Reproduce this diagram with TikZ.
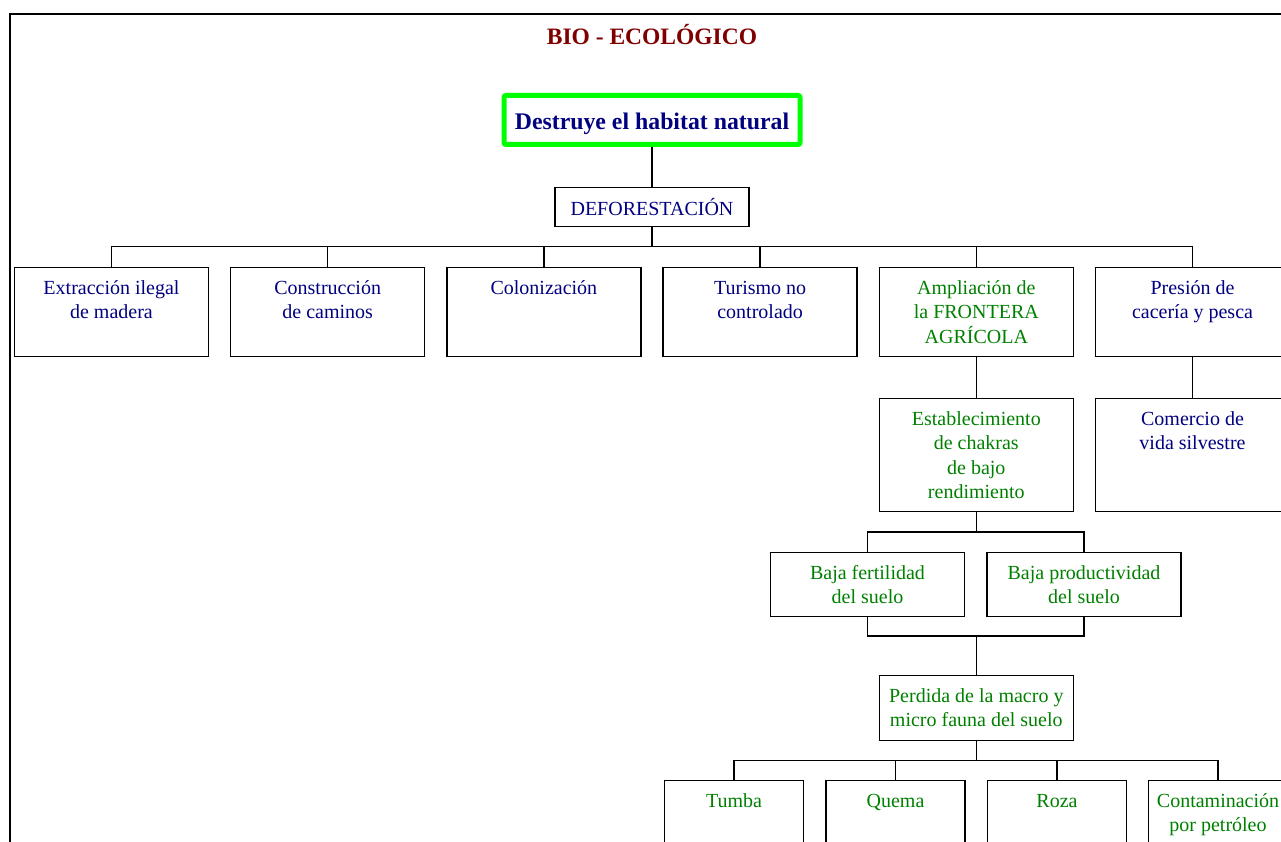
\documentclass[tikz,border=0pt]{standalone}
\usepackage{fontspec}
\setmainfont{Liberation Serif}
\usepackage{tikz}

\definecolor{azul}{RGB}{0,0,128}
\definecolor{verdet}{RGB}{0,128,0}
\definecolor{verdeb}{RGB}{0,255,0}
\definecolor{rojo}{RGB}{128,0,0}

\begin{document}
\begin{tikzpicture}[x=1pt,y=-1pt,line width=1.4pt,
    caja/.style 2 args={draw, anchor=north, inner sep=0pt,
      font=\fontsize{20}{24.5}\selectfont,
      execute at begin node={\begin{minipage}[c][#2][t]{#1}\centering\rule{0pt}{27pt}},
      execute at end node={\end{minipage}}},
    az/.style={text=azul},
    ve/.style={text=verdet}]
     \useasboundingbox (0,0) rectangle (1281,842);
     \clip (0,0) rectangle (1281,842);
     \draw[line width=2pt] (10,900) |- (1300,14);

     \path (652,35) node[font=\bfseries\fontsize{23.5}{26}\selectfont, text=rojo] (vt) {BIO - ECOLÓGICO};
     \path (652,120) node[draw=verdeb, line width=5pt, rounded corners=2pt, minimum width=296pt,
          minimum height=49pt, inner sep=0pt, text=azul, text height=22pt, text depth=3pt,
          font=\bfseries\fontsize{23.8}{26}\selectfont] (vdes) {Destruye el habitat natural};
     \path (652,207) node[draw, minimum width=194pt, minimum height=39pt, inner sep=0pt, az,
          font=\fontsize{20}{24}\selectfont] (vdef) {DEFORESTACIÓN};

     \path (111.5,266.5) node[caja={194pt}{89pt}, az] (va) {Extracción ilegal\\de madera};
     \path (327.7,266.5) node[caja={194pt}{89pt}, az] (vb) {Construcción\\de caminos};
     \path (543.9,266.5) node[caja={194pt}{89pt}, az] (vc) {Colonización};
     \path (760.1,266.5) node[caja={194pt}{89pt}, az] (vd) {Turismo no\\controlado};
     \path (976.3,266.5) node[caja={194pt}{89pt}, ve] (ve) {Ampliación de\\la FRONTERA\\AGRÍCOLA};
     \path (1192.5,266.5) node[caja={194pt}{89pt}, az] (vf) {Presión de\\cacería y pesca};

     \path (976.3,397.5) node[caja={194pt}{113pt}, ve] (vg) {Establecimiento\\de chakras\\de bajo\\rendimiento};
     \path (1192.5,397.5) node[caja={194pt}{113pt}, az] (vh) {Comercio de\\vida silvestre};

     \path (867.5,551.5) node[caja={194pt}{64pt}, ve] (vi) {Baja fertilidad\\del suelo};
     \path (1084,551.5) node[caja={194pt}{64pt}, ve] (vj) {Baja productividad\\del suelo};
     \coordinate (vjoin) at (976.3,636);

     \path (976.3,674.5) node[caja={194pt}{65pt}, ve] (vk) {Perdida de la macro y\\micro fauna del suelo};

     \path (734,779.5) node[caja={139pt}{100pt}, ve] (vl) {Tumba};
     \path (895.5,779.5) node[caja={139pt}{100pt}, ve] (vm) {Quema};
     \path (1057,779.5) node[caja={139pt}{100pt}, ve] (vn) {Roza};
     \path (1218,779.5) node[caja={139pt}{100pt}, ve] (vo) {Contaminación\\por petróleo};

     \draw (vdes) -- (vdef);
     \foreach \n in {va,vb,vc,vd,ve,vf}
       \draw (vdef.south) -- ++(0,19.5) -| (\n.north);
     \draw (ve) -- (vg);
     \draw (vf) -- (vh);
     \foreach \n in {vi,vj}
       \draw (vg.south) -- ++(0,20) -| (\n.north);
     \draw (vi.south) |- (vjoin) -| (vj.south);
     \draw (vjoin) -- (vk.north);
     \foreach \n in {vl,vm,vn,vo}
       \draw (vk.south) -- ++(0,19.5) -| (\n.north);
\end{tikzpicture}
\end{document}
